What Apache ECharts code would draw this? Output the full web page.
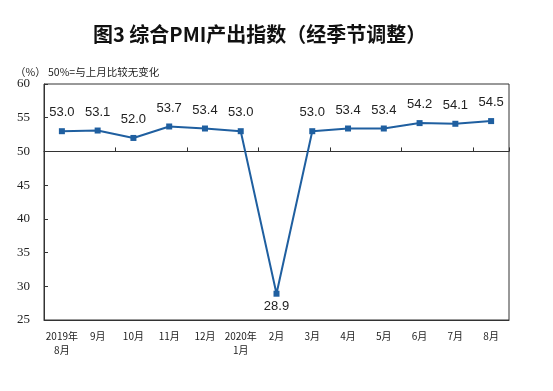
<!DOCTYPE html>
<html><head><meta charset="utf-8">
<script src="https://cdn.jsdelivr.net/npm/echarts@6/dist/echarts.min.js"></script>
<style>html,body{margin:0;padding:0;background:#fff}#c{width:553px;height:391px}</style>
</head><body><div id="c"></div>
<script>
var categories = ['2019年\n8月','9月','10月','11月','12月','2020年\n1月','2月','3月','4月','5月','6月','7月','8月'];
var values = [53.0, 53.1, 52.0, 53.7, 53.4, 53.0, 28.9, 53.0, 53.4, 53.4, 54.2, 54.1, 54.5];
var yTicks = [25, 30, 35, 40, 45, 50, 55, 60];
var titleText = '图3 综合PMI产出指数（经季节调整）';
var unitText = '（%） 50%=与上月比较无变化';

var chart = echarts.init(document.getElementById('c'), null, {renderer:'canvas'});
var gridTop = 84, gridBottom = 71, H = 391;
var plotH = H - gridTop - gridBottom;
var yMin = yTicks[0], yMax = yTicks[yTicks.length-1];
var baseOffset = -plotH * (50 - yMin) / (yMax - yMin);

chart.setOption({
  animation: false,
  backgroundColor: '#fff',
  title: [
    {text: titleText, left: 88, top: 19, textStyle: {fontFamily: 'Noto Sans CJK SC', fontSize: 20, fontWeight: 'bold', color: '#111'}},
    {text: unitText, left: 10, top: 62, textStyle: {fontFamily: 'Noto Sans CJK SC', fontSize: 10.5, fontWeight: 'normal', color: '#222'}}
  ],
  grid: {left: 44, right: 44, top: gridTop, bottom: gridBottom, show: true, borderColor: '#333', borderWidth: 1},
  xAxis: [
    {type: 'category', data: categories, boundaryGap: true, position: 'bottom',
     axisLine: {show: true, lineStyle: {color: '#333', width: 1}},
     axisTick: {show: false},
     axisLabel: {interval: 0, margin: 9, fontFamily: 'Noto Sans CJK SC', fontSize: 10, lineHeight: 14, color: '#222'}},
    {type: 'category', data: categories, boundaryGap: true, position: 'bottom', offset: baseOffset,
     axisLine: {show: true, lineStyle: {color: '#333', width: 1}},
     axisTick: {show: true, inside: true, length: 4, lineStyle: {color: '#333'}},
     axisLabel: {show: false}}
  ],
  yAxis: {type: 'value', min: yMin, max: yMax, interval: 5,
    axisLine: {show: true, lineStyle: {color: '#333'}},
    axisTick: {show: true, inside: true, length: 4, lineStyle: {color: '#333'}},
    splitLine: {show: false},
    axisLabel: {margin: 14, fontFamily: 'Liberation Serif', fontSize: 13, color: '#222'}},
  series: [{
    type: 'line', xAxisIndex: 0,
    symbol: 'rect', symbolSize: 6,
    lineStyle: {color: '#1f5fa0', width: 2},
    itemStyle: {color: '#1f5fa0'},
    label: {show: true, position: 'top', distance: 9, fontFamily: 'Liberation Sans', fontSize: 13, color: '#222',
      formatter: function(p){return Number(p.value).toFixed(1);}},
    labelLayout: {hideOverlap: false},
    data: values.map(function(v){
      return v < 50 ? {value: v, label: {position: 'bottom', distance: 3}} : v;
    })
  }]
});
</script></body></html>
